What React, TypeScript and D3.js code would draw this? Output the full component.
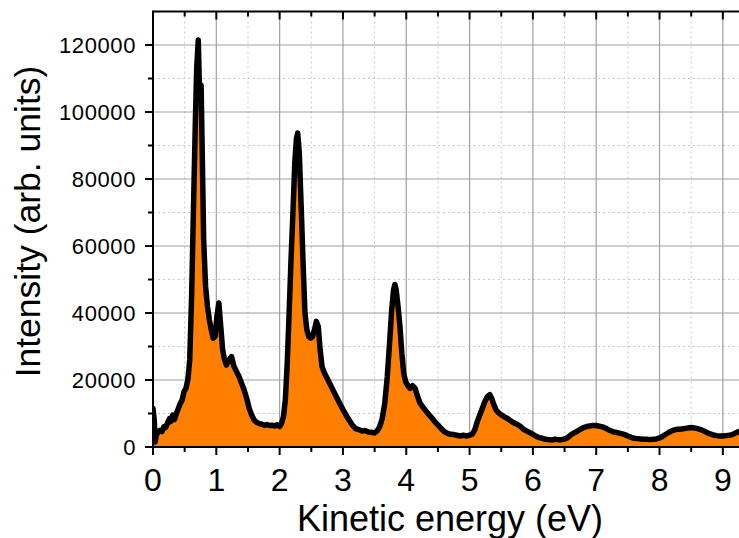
import React from "react";
import * as d3 from "d3";

// Photoelectron spectrum: kinetic energy (eV) vs intensity (arb. units)
const energy: number[] = [
  0.0, 0.02, 0.035, 0.05, 0.08, 0.11, 0.14, 0.17, 0.2, 0.23, 0.26, 0.28, 0.31, 0.34, 0.37, 0.4, 0.43, 0.46, 0.49,
  0.52, 0.55, 0.58, 0.61, 0.64, 0.67, 0.69, 0.715, 0.73, 0.745, 0.76, 0.78, 0.8, 0.83, 0.86, 0.89, 0.92, 0.95,
  0.98, 1.01, 1.04, 1.07, 1.1, 1.13, 1.16, 1.2, 1.24, 1.28, 1.32, 1.36, 1.4, 1.44, 1.48, 1.52, 1.56, 1.6, 1.64,
  1.68, 1.72, 1.76, 1.8, 1.84, 1.88, 1.92, 1.96, 2.0, 2.03, 2.06, 2.09, 2.12, 2.15, 2.18, 2.21, 2.24, 2.265,
  2.285, 2.31, 2.34, 2.37, 2.4, 2.43, 2.46, 2.49, 2.52, 2.55, 2.58, 2.61, 2.64, 2.67, 2.71, 2.75, 2.79, 2.83,
  2.87, 2.91, 2.95, 3.0, 3.05, 3.1, 3.15, 3.2, 3.25, 3.3, 3.35, 3.4, 3.45, 3.5, 3.54, 3.58, 3.62, 3.66, 3.7,
  3.74, 3.77, 3.8, 3.82, 3.84, 3.87, 3.9, 3.93, 3.96, 3.99, 4.02, 4.06, 4.1, 4.14, 4.18, 4.22, 4.26, 4.3, 4.35,
  4.4, 4.45, 4.5, 4.55, 4.6, 4.65, 4.7, 4.75, 4.8, 4.85, 4.9, 4.95, 5.0, 5.04, 5.08, 5.12, 5.16, 5.2, 5.24,
  5.28, 5.32, 5.35, 5.38, 5.42, 5.46, 5.5, 5.55, 5.6, 5.65, 5.7, 5.75, 5.8, 5.85, 5.9, 5.95, 6.0, 6.05, 6.1,
  6.15, 6.2, 6.25, 6.3, 6.35, 6.4, 6.45, 6.5, 6.55, 6.6, 6.65, 6.7, 6.75, 6.8, 6.85, 6.9, 6.95, 7.0, 7.05, 7.1,
  7.15, 7.2, 7.25, 7.3, 7.35, 7.4, 7.45, 7.5, 7.55, 7.6, 7.65, 7.7, 7.75, 7.8, 7.85, 7.9, 7.95, 8.0, 8.05, 8.1,
  8.15, 8.2, 8.25, 8.3, 8.35, 8.4, 8.45, 8.5, 8.55, 8.6, 8.65, 8.7, 8.75, 8.8, 8.85, 8.9, 8.95, 9.0, 9.05, 9.1,
  9.15, 9.2, 9.25, 9.3, 9.35,
];

const intensity: number[] = [
  11500, 8000, 1500, 3500, 4500, 5000, 4600, 6000, 5800, 7200, 8500, 7600, 9500, 8200, 10000, 11500, 13000, 14000,
  16500, 17500, 20000, 26000, 45000, 72000, 98000, 113000, 121500, 110000, 104000, 108000, 85000, 62000, 48000,
  42000, 38000, 35000, 32500, 33000, 39000, 43000, 36000, 29000, 26000, 24500, 26000, 27000, 24000, 22500, 21000,
  19000, 17000, 14500, 11500, 9500, 8000, 7300, 7000, 6800, 6500, 6700, 6400, 6500, 6300, 6600, 6100, 7000, 9000,
  14000, 25000, 40000, 56000, 70000, 85000, 92000, 93700, 88000, 72000, 55000, 40000, 35000, 33000, 32500, 33000,
  35000, 37500, 36000, 29000, 24000, 22000, 20500, 19000, 17500, 16000, 14500, 13000, 11200, 9500, 8000, 6500,
  5500, 5200, 4800, 4900, 4500, 4400, 4200, 4800, 6000, 8500, 13000, 21000, 32000, 41000, 47000, 48500, 47000,
  42000, 36000, 28000, 22000, 19500, 18500, 17500, 18300, 17500, 15000, 13000, 12000, 11000, 9800, 8800, 7600,
  6600, 5500, 4600, 4100, 3800, 3700, 3500, 3300, 3500, 3300, 3500, 3800, 5000, 7500, 9500, 11500, 13500, 15000,
  15600, 14500, 12800, 11000, 10200, 9600, 9000, 8500, 7800, 7200, 6800, 6200, 5300, 4800, 4300, 3800, 3200, 2800,
  2600, 2300, 2200, 2100, 2300, 2200, 2200, 2400, 2800, 3600, 4200, 4700, 5300, 5800, 6100, 6300, 6400, 6400,
  6200, 6000, 5600, 5100, 4700, 4400, 4200, 4000, 3700, 3300, 2900, 2600, 2500, 2400, 2300, 2300, 2200, 2300,
  2400, 2700, 3200, 3800, 4400, 4900, 5200, 5300, 5400, 5500, 5700, 5800, 5700, 5500, 5200, 4800, 4300, 3900,
  3600, 3400, 3300, 3300, 3400, 3500, 3700, 4200, 4600, 4700, 4800,
];

const xMajorTicks: number[] = [0, 1, 2, 3, 4, 5, 6, 7, 8, 9];
const xMinorTicks: number[] = [0.5, 1.5, 2.5, 3.5, 4.5, 5.5, 6.5, 7.5, 8.5];
const yMajorTicks: number[] = [0, 20000, 40000, 60000, 80000, 100000, 120000];
const yMinorTicks: number[] = [10000, 30000, 50000, 70000, 90000, 110000];

const W = 739;
const H = 538;
const left = 153;
const right = 745;
const top = 11.5;
const bottom = 447;

export default function App() {
  const x = d3.scaleLinear().domain([0, 9.35]).range([left, right]);
  const y = d3.scaleLinear().domain([0, 130000]).range([bottom, top]);

  const pts: [number, number][] = energy.map((e, i) => [e, intensity[i]]);
  const area = d3
    .area<[number, number]>()
    .x((d) => x(d[0]))
    .y0(y(0))
    .y1((d) => y(d[1]));
  const line = d3
    .line<[number, number]>()
    .x((d) => x(d[0]))
    .y((d) => y(d[1]));

  const font = "'Liberation Sans', Arial, sans-serif";

  return (
    <svg
      width={W}
      height={H}
      style={{ position: "absolute", left: 0, top: 0, display: "block", background: "#fff" }}
    >
      <defs>
        <clipPath id="plotClip">
          <rect x={left} y={top - 4} width={right - left} height={bottom - top + 8} />
        </clipPath>
      </defs>

      {/* grid */}
      <g>
        {xMinorTicks.map((t) => (
          <line key={"xm" + t} x1={x(t)} x2={x(t)} y1={top} y2={bottom} stroke="#c8c8c8" strokeWidth={1} strokeDasharray="2,3" />
        ))}
        {yMinorTicks.map((t) => (
          <line key={"ym" + t} x1={left} x2={right} y1={y(t)} y2={y(t)} stroke="#c8c8c8" strokeWidth={1} strokeDasharray="2,3" />
        ))}
        {xMajorTicks.map((t) => (
          <line key={"xg" + t} x1={x(t)} x2={x(t)} y1={top} y2={bottom} stroke="#a0a0a0" strokeWidth={1.2} />
        ))}
        {yMajorTicks.map((t) => (
          <line key={"yg" + t} x1={left} x2={right} y1={y(t)} y2={y(t)} stroke="#a0a0a0" strokeWidth={1.2} />
        ))}
      </g>

      {/* spectrum */}
      <g clipPath="url(#plotClip)">
        <path d={area(pts) ?? ""} fill="#ff8000" stroke="none" />
        <path d={line(pts) ?? ""} fill="none" stroke="#000" strokeWidth={5.5} strokeLinejoin="round" strokeLinecap="round" />
      </g>

      {/* frame */}
      <line x1={left} x2={right} y1={top} y2={top} stroke="#000" strokeWidth={2} />
      <line x1={left} x2={right} y1={bottom} y2={bottom} stroke="#000" strokeWidth={2} />
      <line x1={left} x2={left} y1={top - 1} y2={bottom + 1} stroke="#000" strokeWidth={2} />

      {/* x ticks: outward at bottom, inward at top */}
      {xMajorTicks.map((t) => (
        <g key={"xt" + t}>
          <line x1={x(t)} x2={x(t)} y1={bottom} y2={bottom + 8} stroke="#000" strokeWidth={2} />
          <line x1={x(t)} x2={x(t)} y1={top} y2={top + 8} stroke="#000" strokeWidth={2} />
          <text x={x(t)} y={491} textAnchor="middle" fontFamily={font} fontSize={32} fill="#000">
            {t}
          </text>
        </g>
      ))}
      {xMinorTicks.map((t) => (
        <g key={"xmt" + t}>
          <line x1={x(t)} x2={x(t)} y1={bottom} y2={bottom + 5} stroke="#000" strokeWidth={2} />
          <line x1={x(t)} x2={x(t)} y1={top} y2={top + 5} stroke="#000" strokeWidth={2} />
        </g>
      ))}

      {/* y ticks */}
      {yMajorTicks.map((t) => (
        <g key={"yt" + t}>
          <line x1={left - 8} x2={left} y1={y(t)} y2={y(t)} stroke="#000" strokeWidth={2} />
          <text x={136} y={y(t) + 8} textAnchor="end" fontFamily={font} fontSize={22} fill="#000" letterSpacing={0.6}>
            {t}
          </text>
        </g>
      ))}
      {yMinorTicks.map((t) => (
        <line key={"ymt" + t} x1={left - 5} x2={left} y1={y(t)} y2={y(t)} stroke="#000" strokeWidth={2} />
      ))}

      {/* axis titles */}
      <text x={450} y={531} textAnchor="middle" fontFamily={font} fontSize={36} fill="#000">
        Kinetic energy (eV)
      </text>
      <text
        transform={`translate(40, 221.5) rotate(-90)`}
        textAnchor="middle"
        fontFamily={font}
        fontSize={35.5}
        fill="#000"
      >
        Intensity (arb. units)
      </text>
    </svg>
  );
}
